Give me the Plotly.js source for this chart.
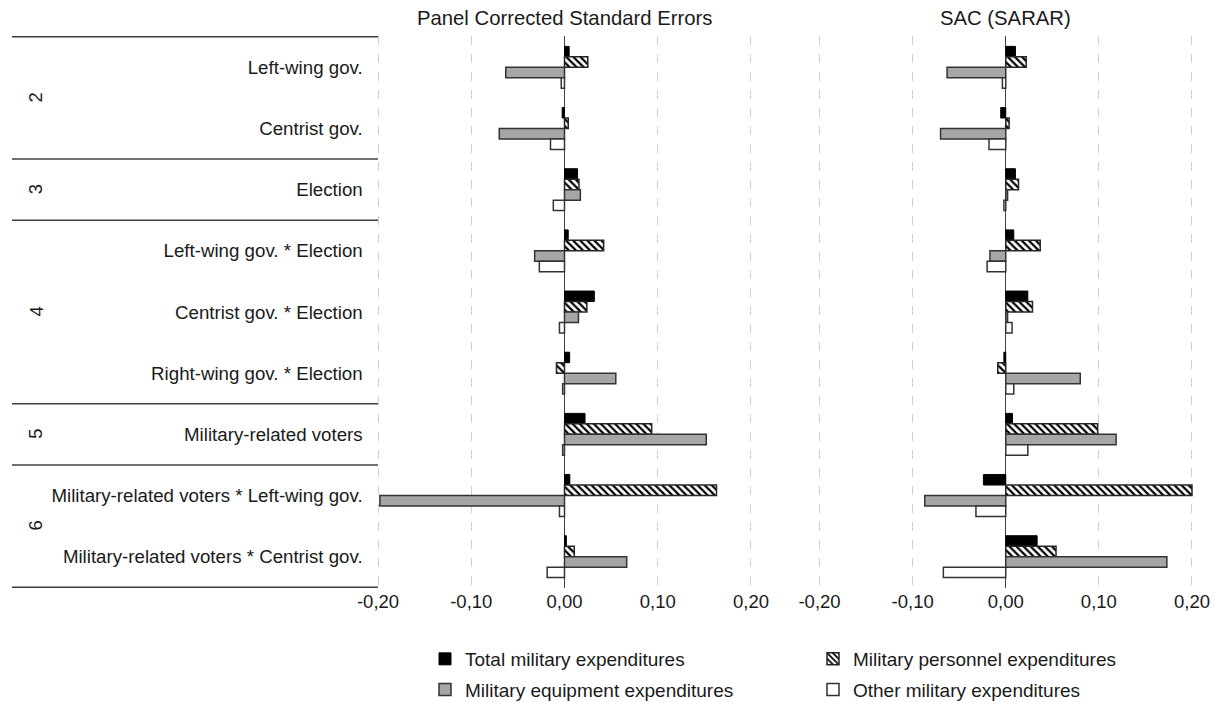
<!DOCTYPE html>
<html>
<head>
<meta charset="utf-8">
<script src="https://cdn.plot.ly/plotly-3.0.1.min.js"></script>
<style>html,body{margin:0;padding:0;background:#fff;}#chart{width:1221px;height:702px;}</style>
</head>
<body>
<div id="chart"></div>
<script>
// ---- data ----
const categories = [
  'Left-wing gov.',
  'Centrist gov.',
  'Election',
  'Left-wing gov. * Election',
  'Centrist gov. * Election',
  'Right-wing gov. * Election',
  'Military-related voters',
  'Military-related voters * Left-wing gov.',
  'Military-related voters * Centrist gov.'
];
const groupLabels = ['2', '3', '4', '5', '6'];
const groupCenters = [0.5, 2, 4, 6, 7.5];
const groupBreaks = [-0.5, 1.5, 2.5, 5.5, 6.5, 8.5];

const seriesNames = [
  'Total military expenditures',
  'Military personnel expenditures',
  'Military equipment expenditures',
  'Other military expenditures'
];
const panelTitles = ['Panel Corrected Standard Errors', 'SAC (SARAR)'];

const pcseTotal     = [0.005, -0.0025, 0.014, 0.004, 0.032, 0.0055, 0.022, 0.0057, 0.002];
const pcsePersonnel = [0.025, 0.004, 0.0155, 0.042, 0.024, -0.0086, 0.0935, 0.163, 0.0105];
const pcseEquipment = [-0.063, -0.070, 0.017, -0.032, 0.015, 0.055, 0.152, -0.198, 0.0667];
const pcseOther     = [-0.0035, -0.015, -0.012, -0.027, -0.0054, -0.002, -0.002, -0.0054, -0.0186];

const sacTotal      = [0.0104, -0.0054, 0.0104, 0.0086, 0.0237, -0.002, 0.0072, -0.024, 0.0337];
const sacPersonnel  = [0.022, 0.0036, 0.0137, 0.037, 0.0287, -0.0086, 0.0987, 0.200, 0.054];
const sacEquipment  = [-0.063, -0.070, 0.002, -0.017, 0.002, 0.080, 0.1185, -0.087, 0.173];
const sacOther      = [-0.0036, -0.018, -0.002, -0.020, 0.0068, 0.0086, 0.0237, -0.032, -0.067];

const xTickVals = [-0.2, -0.1, 0, 0.1, 0.2];
const xTickText = ['-0,20', '-0,10', '0,00', '0,10', '0,20'];

// ---- styles ----
const FONT = 'Liberation Sans, Arial, sans-serif';
const TXT = '#1a1a1a';
const markers = [
  {color: '#000000', line: {color: '#000000', width: 1}},
  {color: '#ffffff', pattern: {shape: '\\', fgcolor: '#000000', bgcolor: '#ffffff', size: 5, solidity: 0.45}, line: {color: '#262626', width: 1.5}},
  {color: '#a6a6a6', line: {color: '#333333', width: 1.5}},
  {color: '#ffffff', line: {color: '#333333', width: 1.5}}
];
const legendIds = ['legend', 'legend2', 'legend', 'legend2'];

const pcse = [pcseTotal, pcsePersonnel, pcseEquipment, pcseOther];
const sac = [sacTotal, sacPersonnel, sacEquipment, sacOther];

const traces = [];
pcse.forEach((vals, i) => {
  traces.push({
    type: 'bar', orientation: 'h', x: vals, y: categories,
    xaxis: 'x', yaxis: 'y', name: seriesNames[i], marker: markers[i],
    legend: legendIds[i], legendgroup: 'g' + i, showlegend: true, hoverinfo: 'skip'
  });
});
sac.forEach((vals, i) => {
  traces.push({
    type: 'bar', orientation: 'h', x: vals, y: categories,
    xaxis: 'x2', yaxis: 'y2', name: seriesNames[i], marker: markers[i],
    legend: legendIds[i], legendgroup: 'g' + i, showlegend: false, hoverinfo: 'skip'
  });
});

const W = 1221, H = 702;
const px = v => v / W;
const PAD = 0.0025;          // small range padding so edge gridlines are drawn
const PPU = 928.5;           // pixels per data unit

const xCommon = {
  range: [-0.2 - PAD, 0.2 + PAD], tickvals: xTickVals, ticktext: xTickText,
  showgrid: true, gridcolor: '#d0d0d0', griddash: 'dash', gridwidth: 1,
  zeroline: true, zerolinecolor: '#404040', zerolinewidth: 1.5,
  showline: false, ticks: '', tickfont: {family: FONT, size: 18.5, color: TXT},
  fixedrange: true
};
const yCommon = {
  type: 'category', categoryarray: categories, categoryorder: 'array',
  autorange: 'reversed', showgrid: false, zeroline: false, showline: false,
  ticks: '', fixedrange: true
};

const shapes = groupBreaks.map(b => ({
  type: 'line', xref: 'paper', yref: 'y', x0: px(12), x1: px(378), y0: b, y1: b,
  line: {color: '#404040', width: 1.5}
}));

const annotations = [];
groupLabels.forEach((g, i) => {
  annotations.push({
    xref: 'paper', yref: 'y', x: px(23), y: groupCenters[i], text: g, showarrow: false,
    textangle: -90, font: {family: FONT, size: 18.5, color: TXT}
  });
});
annotations.push({xref: 'x', yref: 'paper', x: 0, y: 1, yanchor: 'bottom', yshift: 5,
  text: panelTitles[0], showarrow: false, font: {family: FONT, size: 20.3, color: TXT}});
annotations.push({xref: 'x2', yref: 'paper', x: 0, y: 1, yanchor: 'bottom', yshift: 5,
  text: panelTitles[1], showarrow: false, font: {family: FONT, size: 20.3, color: TXT}});

const legendCommon = {
  orientation: 'v', yanchor: 'top', xanchor: 'left', bgcolor: 'rgba(0,0,0,0)',
  font: {family: FONT, size: 19, color: TXT}, tracegroupgap: 3,
  itemclick: false, itemdoubleclick: false
};

const layout = {
  width: W, height: H,
  margin: {l: 0, r: 0, t: 36, b: 114, pad: 0, autoexpand: false},
  paper_bgcolor: '#ffffff', plot_bgcolor: '#ffffff',
  barmode: 'group', bargap: 0.315, bargroupgap: 0,
  font: {family: FONT, size: 18.5, color: TXT},
  xaxis: Object.assign({}, xCommon, {domain: [px(378 - PAD * PPU), px(751 + PAD * PPU)], anchor: 'y'}),
  xaxis2: Object.assign({}, xCommon, {domain: [px(819.5 - PAD * PPU), px(1192 + PAD * PPU)], anchor: 'y2'}),
  yaxis: Object.assign({}, yCommon, {anchor: 'x', showticklabels: true, ticklabelstandoff: 12,
    tickfont: {family: FONT, size: 18.7, color: TXT}}),
  yaxis2: Object.assign({}, yCommon, {anchor: 'x2', matches: 'y', showticklabels: false}),
  shapes: shapes,
  annotations: annotations,
  legend: Object.assign({}, legendCommon, {x: px(425), y: (588 - 640) / 552}),
  legend2: Object.assign({}, legendCommon, {x: px(813), y: (588 - 640) / 552}),
  showlegend: true
};

Plotly.newPlot('chart', traces, layout, {displayModeBar: false, staticPlot: true});
</script>
</body>
</html>
